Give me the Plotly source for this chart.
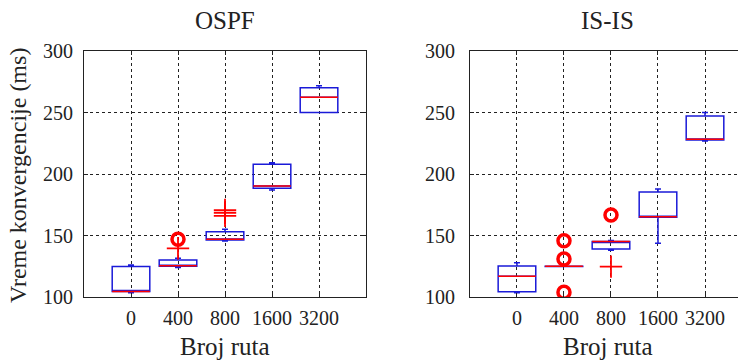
import plotly.graph_objects as go

categories = ["0", "400", "800", "1600", "3200"]

# OSPF box statistics
ospf_q1 = [104.5, 125.0, 146.3, 188.4, 250.1]
ospf_med = [104.5, 125.5, 147.0, 190.2, 262.3]
ospf_q3 = [124.7, 130.0, 153.0, 208.0, 270.2]
ospf_lo = [103.5, 124.0, 145.5, 187.0, 250.0]
ospf_hi = [126.0, 131.5, 155.0, 209.2, 271.8]
ospf_circ_x = ["400"]
ospf_circ_y = [147.0]
ospf_plus_x = ["400", "800", "800", "800"]
ospf_plus_y = [139.6, 170.7, 168.5, 166.0]

# IS-IS box statistics
isis_q1 = [104.3, 124.7, 139.0, 164.8, 227.6]
isis_med = [116.8, 125.0, 145.2, 165.3, 228.2]
isis_q3 = [125.2, 125.0, 145.2, 185.4, 247.2]
isis_lo = [103.5, 124.7, 138.0, 143.7, 226.8]
isis_hi = [127.9, 125.0, 146.0, 187.8, 250.0]
isis_circ_x = ["400", "400", "400", "800"]
isis_circ_y = [145.8, 130.9, 103.8, 166.7]
isis_plus_x = ["800"]
isis_plus_y = [124.7]

BOX_W = 0.8
BLUE = "#1a1ad8"
RED = "#ff0000"
FONT = "Liberation Serif, DejaVu Serif, serif"

fig = go.Figure()
idx = {c: i for i, c in enumerate(categories)}


def add_panel(q1, med, q3, lo, hi, cx, cy, px, py, xa, ya):
    for i, c in enumerate(categories):
        fig.add_trace(go.Box(
            x=[i], q1=[q1[i]], median=[med[i]], q3=[q3[i]],
            lowerfence=[lo[i]], upperfence=[hi[i]],
            width=BOX_W, whiskerwidth=0.16, boxpoints=False,
            line=dict(color=BLUE, width=1.5), fillcolor="rgba(0,0,0,0)",
            xaxis=xa, yaxis=ya, showlegend=False, hoverinfo="skip"))
        fig.add_trace(go.Scatter(
            x=[i - BOX_W / 2, i + BOX_W / 2], y=[med[i], med[i]], mode="lines",
            line=dict(color=RED, width=1.5), xaxis=xa, yaxis=ya,
            showlegend=False, hoverinfo="skip"))
    fig.add_trace(go.Scatter(
        x=[idx[c] for c in cx], y=cy, mode="markers",
        marker=dict(symbol="circle-open", size=12, color=RED,
                    line=dict(color=RED, width=3.5)),
        xaxis=xa, yaxis=ya, showlegend=False, hoverinfo="skip"))
    fig.add_trace(go.Scatter(
        x=[idx[c] for c in px], y=py, mode="markers",
        marker=dict(symbol="cross-thin-open", size=16, color=RED,
                    line=dict(color=RED, width=1.8)),
        xaxis=xa, yaxis=ya, showlegend=False, hoverinfo="skip"))


add_panel(ospf_q1, ospf_med, ospf_q3, ospf_lo, ospf_hi,
          ospf_circ_x, ospf_circ_y, ospf_plus_x, ospf_plus_y, "x", "y")
add_panel(isis_q1, isis_med, isis_q3, isis_lo, isis_hi,
          isis_circ_x, isis_circ_y, isis_plus_x, isis_plus_y, "x2", "y2")

grid = dict(showgrid=True, gridcolor="#222222", gridwidth=1, griddash="3px,3px")
common_x = dict(tickvals=list(range(len(categories))), ticktext=categories,
                ticks="inside", ticklen=4, tickcolor="#222222",
                showline=True, linecolor="#222222", linewidth=1, mirror="ticks",
                zeroline=False, ticklabelstandoff=3,
                tickfont=dict(family=FONT, size=20, color="#222222"),
                **grid)
common_y = dict(range=[100, 300], tickvals=[100, 150, 200, 250, 300],
                ticks="inside", ticklen=4, tickcolor="#222222",
                showline=True, linecolor="#222222", linewidth=1,
                zeroline=False, tickfont=dict(family=FONT, size=20, color="#222222"),
                **grid)

fig.update_layout(
    width=738, height=353,
    margin=dict(l=76, r=0, t=43, b=64),
    paper_bgcolor="white", plot_bgcolor="white",
    font=dict(family=FONT),
    xaxis=dict(domain=[0, 0.426], range=[-1, 5], anchor="y", **common_x),
    yaxis=dict(domain=[0, 1], anchor="x", mirror="ticks", ticklabelstandoff=6, **common_y),
    xaxis2=dict(domain=[0.583, 1], range=[-1, 4.872], anchor="y2", **common_x),
    yaxis2=dict(domain=[0, 1], anchor="x2", mirror=False, ticklabelstandoff=10, **common_y),
    annotations=[
        dict(text="OSPF", x=0.213, y=1.126, xref="paper", yref="paper",
             showarrow=False, font=dict(family=FONT, size=25, color="#222222"),
             xanchor="center", yanchor="middle"),
        dict(text="IS-IS", x=0.7915, y=1.126, xref="paper", yref="paper",
             showarrow=False, font=dict(family=FONT, size=25, color="#222222"),
             xanchor="center", yanchor="middle"),
        dict(text="Broj ruta", x=0.213, y=-0.203, xref="paper", yref="paper",
             showarrow=False, font=dict(family=FONT, size=25, color="#222222"),
             xanchor="center", yanchor="middle"),
        dict(text="Broj ruta", x=0.7915, y=-0.203, xref="paper", yref="paper",
             showarrow=False, font=dict(family=FONT, size=25, color="#222222"),
             xanchor="center", yanchor="middle"),
        dict(text="Vreme konvergencije (ms)", x=-0.0997, y=0.496, xref="paper",
             yref="paper", showarrow=False, textangle=-90,
             font=dict(family=FONT, size=24, color="#222222"),
             xanchor="center", yanchor="middle"),
    ],
)

fig.write_html("out.html")
